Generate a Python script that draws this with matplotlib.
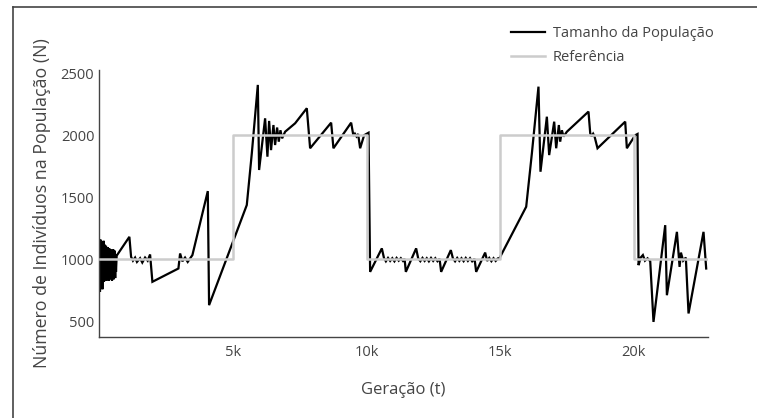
import matplotlib
matplotlib.use('Agg')
import matplotlib.pyplot as plt
from matplotlib.lines import Line2D
from matplotlib.ticker import FuncFormatter

plt.rcParams['font.family'] = ['Open Sans', 'DejaVu Sans']

# tamanho da população ao longo das gerações
geracao = [0, 15, 30, 45, 60, 75, 90, 105, 120, 135, 150, 165, 180, 195, 210, 225,
           240, 255, 270, 285, 300, 315, 330, 345, 360, 375, 390, 405, 420, 435,
           450, 465, 480, 495, 510, 525, 540, 555, 570, 585, 600, 615, 640,
           1116, 1180, 1250, 1330, 1400, 1517, 1600, 1704, 1800, 1891, 1978, 2952, 3015,
           3100, 3200, 3300, 3400, 3476, 4052, 4100, 5512, 5700, 5925, 5973,
           6198, 6285, 6348, 6420, 6510, 6572, 6647, 6710, 6772, 6835, 6947,
           7322, 7759, 7883, 8670, 8756, 9419, 9505, 9560, 9620, 9680, 9756, 9905, 10070,
           10130, 10568, 10650, 10720, 10800, 10880, 10960, 11040, 11120, 11200,
           11280, 11360, 11420, 11467, 11853,
           11930, 12010, 12090, 12170, 12250, 12330, 12410, 12490, 12570, 12650,
           12730, 12789, 13151,
           13230, 13310, 13390, 13470, 13550, 13630, 13710, 13790, 13870, 13950,
           14040, 14100, 14437,
           14510, 14590, 14670, 14750, 14830, 14910, 14973, 15973, 16186, 16433, 16508,
           16747, 16833, 17021, 17096, 17196, 17246, 17309, 17371, 17496,
           18305, 18370, 18420, 18480, 18530, 18643, 19680, 19742, 20055, 20142, 20180,
           20260, 20342, 20420, 20517, 20617, 20739, 21178, 21241, 21616, 21716, 21766,
           21850, 21950, 22051, 22612, 22712]
populacao = [1000, 740, 1160, 780, 1140, 860, 1130, 760, 1100, 900, 1150, 820, 1120, 840, 1090, 880,
             1110, 830, 1080, 870, 1100, 850, 1070, 830, 1090, 880, 1060, 840, 1080, 860,
             1070, 830, 1060, 870, 1080, 840, 1050, 880, 1070, 850, 1040, 900, 1030,
             1182, 1021, 990, 1015, 980, 1010, 975, 1015, 990, 1040, 820, 927, 1048,
             985, 1015, 980, 1012, 1035, 1550, 632, 1438, 1854, 2405, 1720,
             2136, 1827, 2115, 1880, 2082, 1921, 2062, 1948, 2040, 1975, 2028,
             2096, 2217, 1895, 2101, 1895, 2101, 1995, 2012, 1990, 2010, 1895, 2000, 2020,
             900, 1089, 1010, 985, 1012, 988, 1010, 985, 1012, 990,
             1010, 988, 1005, 900, 1089,
             1008, 986, 1012, 988, 1010, 985, 1012, 988, 1010, 986,
             1005, 900, 1075,
             1008, 985, 1012, 988, 1010, 986, 1012, 988, 1010, 985,
             1005, 900, 1055,
             988, 1012, 986, 1010, 988, 1008, 1010, 1424, 1854, 2391, 1706,
             2149, 1840, 2109, 1895, 2082, 1948, 2040, 1989, 2028,
             2190, 2016, 1990, 2012, 1992, 1895, 2109, 1895, 2000, 2010, 954,
             1015, 1035, 990, 1009, 985, 497, 1276, 712, 1222, 940, 1055,
             990, 1015, 565, 1222, 927]

# valor de referência (degraus)
geracao_ref = [0, 5000, 5000, 10000, 10000, 15000, 15000, 20000, 20000, 22750]
valor_ref = [1000, 1000, 2000, 2000, 1000, 1000, 2000, 2000, 1000, 1000]

cinza = '#444444'

fig = plt.figure(figsize=(7.57, 4.18), dpi=100)
ax = fig.add_axes([98.5 / 757, 1 - 336.7 / 418, (708 - 98.5) / 757, (336.7 - 70) / 418])

ax.plot(geracao, populacao, color='black', lw=1.6, label='Tamanho da População',
        solid_joinstyle='miter', zorder=2)
ax.plot(geracao_ref, valor_ref, color='#cccccc', lw=1.8, label='Referência', zorder=3)

ax.set_xlim(-40, 22780)
ax.set_ylim(378, 2525)
ax.set_xticks([5000, 10000, 15000, 20000])
ax.xaxis.set_major_formatter(FuncFormatter(lambda v, p: f'{int(v / 1000)}k'))
ax.set_yticks([500, 1000, 1500, 2000, 2500])

for s in ['top', 'right']:
    ax.spines[s].set_visible(False)
for s in ['left', 'bottom']:
    ax.spines[s].set_color(cinza)
    ax.spines[s].set_linewidth(1.0)
ax.tick_params(length=0, labelsize=10.5, colors=cinza)
ax.tick_params(axis='x', pad=6)
ax.tick_params(axis='y', pad=3)

ax.set_xlabel('Geração (t)', fontsize=12, color=cinza, labelpad=16)
ax.set_ylabel('Número de Indivíduos na População (N)', fontsize=12.8, color=cinza, labelpad=7)

fig.legend(loc='upper left', bbox_to_anchor=(511 / 757, 1 - 26 / 418), frameon=False,
           fontsize=10.5, labelcolor=cinza, handlelength=2.3, handletextpad=0.55,
           labelspacing=0.6, borderpad=0, borderaxespad=0)

# moldura parcial no topo e à esquerda
fig.add_artist(Line2D([12.5 / 757, 12.5 / 757], [0, 1 - 7 / 418], transform=fig.transFigure,
                      color=cinza, lw=1.2))
fig.add_artist(Line2D([12.5 / 757, 1], [1 - 7 / 418, 1 - 7 / 418], transform=fig.transFigure,
                      color=cinza, lw=1.2))

fig.savefig('out.png', dpi=100)
